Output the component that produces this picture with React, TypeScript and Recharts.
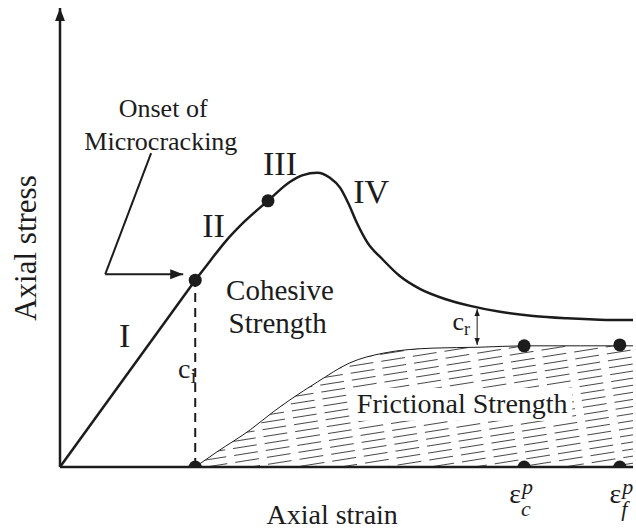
import React from 'react';
import { ComposedChart, Line, Area, Scatter, XAxis, YAxis, ReferenceLine, ReferenceDot } from 'recharts';

// stage I: linear elastic part, arbitrary units 0..100
const strainElastic = [0, 23.6];
const stressElastic = [0, 40.7];
// stages II-IV: from onset of microcracking through peak to residual
const strainPeak = [23.6, 26.2, 28.8, 32.3, 36.3, 40.1, 42.4, 44.9, 47.1, 48.9, 50.3, 51.8, 53.6, 56.4, 59.3, 62.8, 67.2, 71.6, 76.8, 82.6, 88.5, 94.2, 100];
const stressPeak = [40.7, 44.9, 49.0, 53.6, 58.0, 62.1, 63.6, 64.1, 63.0, 60.8, 57.5, 53.2, 49.0, 45.1, 41.6, 38.8, 36.6, 35.1, 33.8, 32.9, 32.4, 32.1, 32.0];
// frictional strength mobilisation
const strainFric = [23.6, 27.4, 33.2, 37.2, 40.1, 44.9, 50.6, 56.4, 65.1, 73.3, 81.0, 90.8, 100];
const stressFric = [0, 3.3, 8.1, 12.0, 14.6, 18.5, 22.7, 24.8, 25.9, 26.1, 26.4, 26.4, 26.4];
// marked points
const markStrain = [23.6, 36.3, 23.6, 81.0, 97.7, 81.0, 97.7];
const markStress = [40.7, 58.0, 0, 26.4, 26.6, 0, 0];

const elasticData = strainElastic.map((x, i) => ({ x, y: stressElastic[i] }));
const peakData = strainPeak.map((x, i) => ({ x, y: stressPeak[i] }));
const fricData = strainFric.map((x, i) => ({ x, y: stressFric[i] }));
const markData = markStrain.map((x, i) => ({ x, y: markStress[i] }));

const SERIF = '"Liberation Serif", "Times New Roman", serif';
const INK = '#1c1c1c';

const txt = (s: string, size: number, extra: any = {}) => (p: any) => (
  <text x={p.cx} y={p.cy} fontSize={size} textAnchor="middle" fill={INK} fontFamily={SERIF} {...extra}>
    {s}
  </text>
);

// symbol with a subscript (and optional superscript) in one text element
const sym = (base: string, sub: string, sup: string | null, size: number, subSize: number, italic: boolean) => (p: any) => (
  <text x={p.cx} y={p.cy} fontSize={size} fill={INK} fontFamily={SERIF}>
    {base}
    {sup ? (
      <>
        <tspan fontSize={subSize} fontStyle="italic" dx={1} dy={-9}>{sup}</tspan>
        <tspan fontSize={subSize} fontStyle={italic ? 'italic' : 'normal'} dx={-12} dy={22}>{sub}</tspan>
      </>
    ) : (
      <tspan fontSize={subSize} dy={5}>{sub}</tspan>
    )}
  </text>
);

const arrowHead = (x: number, y: number, a: number, l: number) => {
  const h = l * 0.38;
  const bx = x - l * Math.cos(a);
  const by = y - l * Math.sin(a);
  return `${x},${y} ${bx + h * Math.sin(a)},${by - h * Math.cos(a)} ${bx - h * Math.sin(a)},${by + h * Math.cos(a)}`;
};

const arrowLine = (w: number, start: boolean, end: boolean, size = 12) => (p: any) => {
  const { x1, y1, x2, y2 } = p;
  const a = Math.atan2(y2 - y1, x2 - x1);
  return (
    <g>
      <line x1={x1} y1={y1} x2={x2} y2={y2} stroke={INK} strokeWidth={w} />
      {end && <polygon points={arrowHead(x2, y2, a, size)} fill={INK} />}
      {start && <polygon points={arrowHead(x1, y1, a + Math.PI, size)} fill={INK} />}
    </g>
  );
};

const dot = (p: any) => <circle cx={p.cx} cy={p.cy} r={6.5} fill={INK} />;

export default function App() {
  return (
    <div style={{ position: 'absolute', left: 0, top: 0, width: 636, height: 531, background: '#fff' }}>
      <ComposedChart width={636} height={531} margin={{ top: 8, right: 3, left: 60, bottom: 64 }}>
        <defs>
          <pattern id="hatch" patternUnits="userSpaceOnUse" width="32" height="7" patternTransform="rotate(-9)">
            <line x1="0" y1="3.5" x2="24" y2="3.5" stroke="#333" strokeWidth="0.9" />
          </pattern>
        </defs>
        <XAxis type="number" dataKey="x" domain={[0, 100]} hide allowDataOverflow />
        <YAxis type="number" dataKey="y" domain={[0, 100]} hide allowDataOverflow />

        <Area data={fricData} dataKey="y" type="monotone" fill="url(#hatch)" fillOpacity={1} stroke={INK} strokeWidth={1} isAnimationActive={false} />
        <Line data={elasticData} dataKey="y" type="linear" stroke={INK} strokeWidth={2.5} dot={false} isAnimationActive={false} />
        <Line data={peakData} dataKey="y" type="monotone" stroke={INK} strokeWidth={2.5} dot={false} isAnimationActive={false} />

        {/* axes */}
        <ReferenceLine segment={[{ x: 0, y: 0 }, { x: 0, y: 100 }]} ifOverflow="visible" shape={arrowLine(2.5, false, true, 13)} />
        <ReferenceLine segment={[{ x: 0, y: 0 }, { x: 100, y: 0 }]} ifOverflow="visible" stroke={INK} strokeWidth={2.5} />

        {/* cohesion at onset */}
        <ReferenceLine segment={[{ x: 23.6, y: 0 }, { x: 23.6, y: 40.7 }]} stroke={INK} strokeWidth={2} strokeDasharray="9 6" />
        {/* residual cohesion */}
        <ReferenceLine segment={[{ x: 72.8, y: 34.4 }, { x: 72.8, y: 26.6 }]} shape={arrowLine(1, true, true, 7)} />
        {/* onset pointer */}
        <ReferenceLine segment={[{ x: 15.9, y: 68.4 }, { x: 7.9, y: 42.0 }]} ifOverflow="visible" stroke={INK} strokeWidth={2} />
        <ReferenceLine segment={[{ x: 7.9, y: 42.0 }, { x: 21.5, y: 42.0 }]} ifOverflow="visible" shape={arrowLine(2, false, true, 13)} />

        <Scatter data={markData} shape={dot} isAnimationActive={false} />

        {/* labels */}
        <ReferenceDot x={-6.1} y={47.7} ifOverflow="visible" shape={(p: any) => (
          <text x={p.cx} y={p.cy} fontSize={31} textAnchor="middle" dominantBaseline="central" fill={INK} fontFamily={SERIF} transform={`rotate(-90, ${p.cx}, ${p.cy})`}>
            Axial stress
          </text>
        )} />
        <ReferenceDot x={47.5} y={-12.4} ifOverflow="visible" shape={txt('Axial strain', 28)} />
        <ReferenceDot x={11.3} y={26.1} ifOverflow="visible" shape={txt('I', 34)} />
        <ReferenceDot x={26.8} y={50.1} ifOverflow="visible" shape={txt('II', 34)} />
        <ReferenceDot x={38.4} y={63.6} ifOverflow="visible" shape={txt('III', 34)} />
        <ReferenceDot x={54.3} y={57.5} ifOverflow="visible" shape={txt('IV', 34)} />
        <ReferenceDot x={18.0} y={76.3} ifOverflow="visible" shape={txt('Onset of', 26)} />
        <ReferenceDot x={17.6} y={69.1} ifOverflow="visible" shape={txt('Microcracking', 26)} />
        <ReferenceDot x={38.4} y={36.4} ifOverflow="visible" shape={txt('Cohesive', 29)} />
        <ReferenceDot x={38.0} y={29.2} ifOverflow="visible" shape={txt('Strength', 29)} />
        <ReferenceDot x={20.6} y={19.4} ifOverflow="visible" shape={sym('c', 'i', null, 28, 22, false)} />
        <ReferenceDot x={68.5} y={29.8} ifOverflow="visible" shape={sym('c', 'r', null, 26, 18, false)} />
        <ReferenceDot x={70.2} y={11.8} ifOverflow="visible" shape={(p: any) => (
          <g>
            <rect x={p.cx - 110} y={p.cy - 25} width={220} height={33} fill="#fff" />
            <text x={p.cx} y={p.cy} fontSize={28} textAnchor="middle" fill={INK} fontFamily={SERIF}>Frictional Strength</text>
          </g>
        )} />
        <ReferenceDot x={78.4} y={-7.8} ifOverflow="visible" shape={sym('ε', 'c', 'p', 28, 22, true)} />
        <ReferenceDot x={95.9} y={-7.8} ifOverflow="visible" shape={sym('ε', 'f', 'p', 28, 22, true)} />
      </ComposedChart>
    </div>
  );
}
